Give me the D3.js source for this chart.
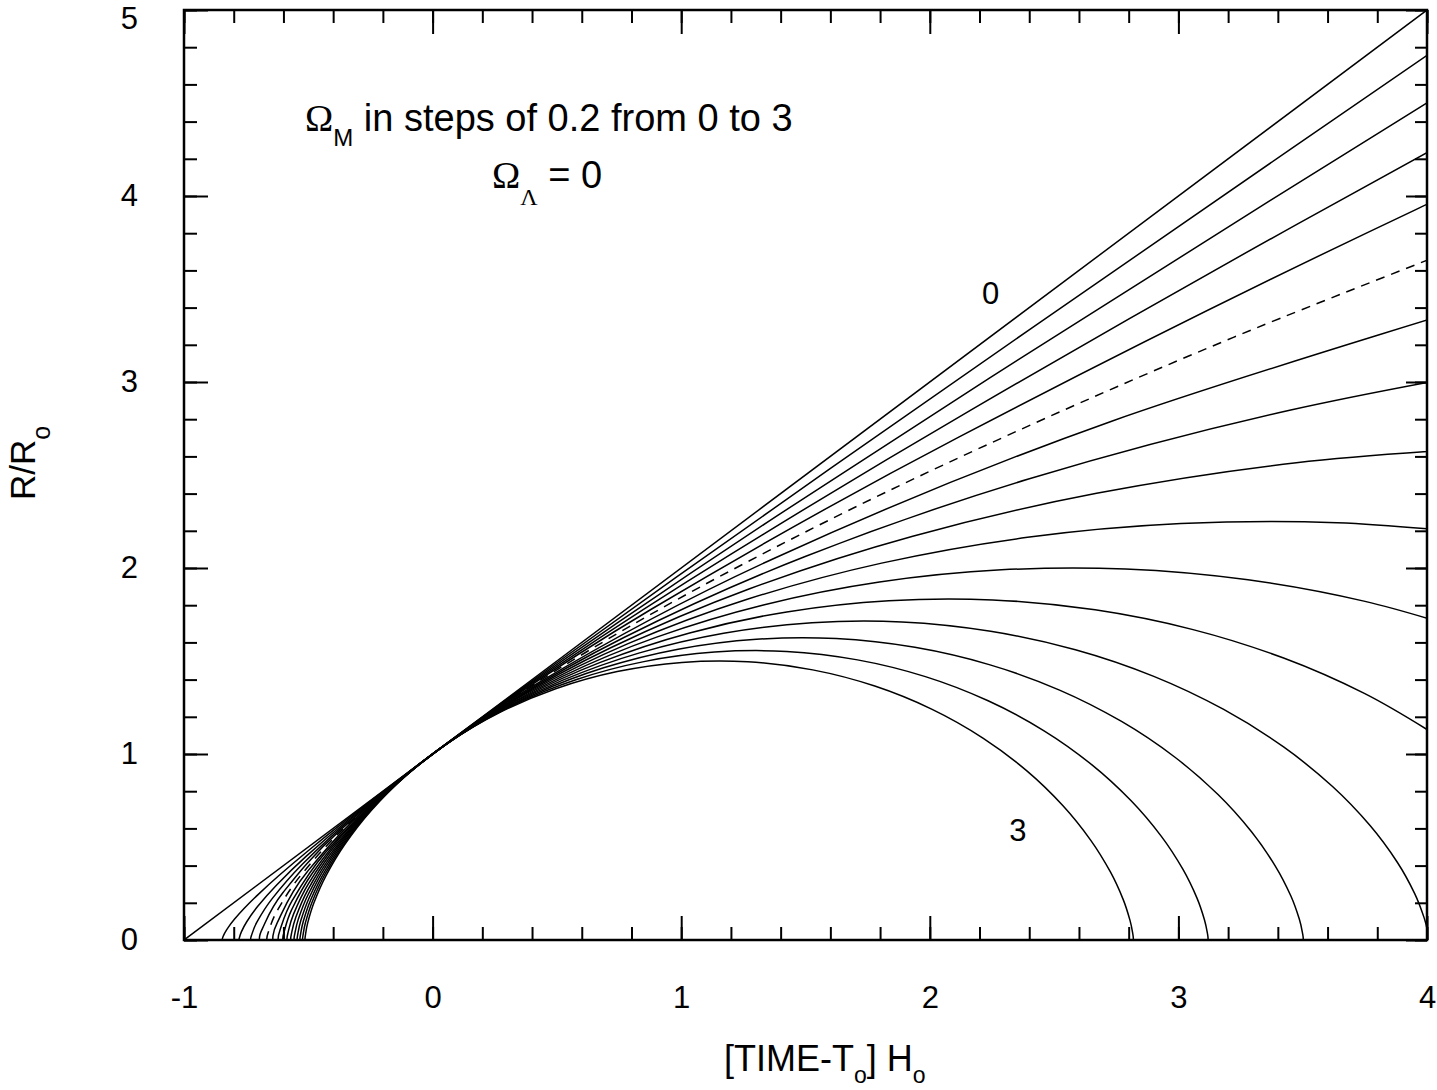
<!DOCTYPE html>
<html>
<head>
<meta charset="utf-8">
<script src="https://cdn.jsdelivr.net/npm/d3@7"></script>
<style>
  body { margin: 0; background: #fff; }
</style>
</head>
<body>
<script>
// R/Ro against (time - To) Ho, Omega_M in steps of 0.2 from 0 to 3, Omega_L = 0
// every curve is a list of [t, R] points

var omegaValues = [0, 0.2, 0.4, 0.6, 0.8, 1.0, 1.2, 1.4, 1.6, 1.8, 2.0, 2.2, 2.4, 2.6, 2.8, 3.0];

var om00 = [[-1, 0], [4, 5]];
var om02 = [[-0.8465,0],[-0.8461,0.0039],[-0.8435,0.0160],[-0.8364,0.0368],[-0.8220,0.0679],[-0.7973,0.1111],[-0.7585,0.1691],[-0.7011,0.2455],[-0.6191,0.3453],[-0.5053,0.4746],[-0.3503,0.6415],[-0.1422,0.8567],[0.1343,1.1335],[0.4988,1.4893],[0.9763,1.9466],[1.5990,2.5340],[2.4084,3.2885],[3.4573,4.2575],[4.8140,5.5018]];
var om04 = [[-0.7787,0],[-0.7776,0.0105],[-0.7696,0.0425],[-0.7476,0.0982],[-0.7033,0.1810],[-0.6273,0.2961],[-0.5079,0.4508],[-0.3310,0.6547],[-0.0786,0.9207],[0.2718,1.2655],[0.7491,1.7108],[1.3899,2.2844],[2.2413,3.0226],[3.3636,3.9715],[4.8339,5.1909]];
var om06 = [[-0.7319,0],[-0.7288,0.0236],[-0.7069,0.0957],[-0.6461,0.2210],[-0.5241,0.4073],[-0.3145,0.6663],[0.0144,1.0143],[0.5019,1.4731],[1.1973,2.0716],[2.1630,2.8474],[3.4782,3.8492],[5.2440,5.1400]];
var om08 = [[-0.6959,0],[-0.6842,0.0628],[-0.6016,0.2553],[-0.3725,0.5894],[0.0876,1.0862],[0.8779,1.7768],[2.1183,2.7048],[3.9570,3.9284],[6.5796,5.5244]];
var om10 = [[-0.6667,0],[-0.6613,0.04],[-0.6240,0.16],[-0.5227,0.36],[-0.3253,0.64],[0,1],[0.4853,1.44],[1.1627,1.96],[2.0640,2.56],[3.2213,3.24],[4.6667,4.0]];
var om12 = [[-0.6421,0],[-0.6247,0.0933],[-0.5041,0.3673],[-0.1835,0.8049],[0.4214,1.3791],[1.3772,2.0540],[2.7288,2.7878],[4.4965,3.5347]];
var om14 = [[-0.6209,0],[-0.6137,0.0544],[-0.5639,0.2142],[-0.4317,0.4695],[-0.1822,0.8045],[0.2121,1.1982],[0.7696,1.6262],[1.4987,2.0619],[2.3971,2.4783],[3.4520,2.8493],[4.6407,3.1520]];
var om16 = [[-0.6022,0],[-0.5978,0.0415],[-0.5668,0.1632],[-0.4846,0.3577],[-0.3294,0.6129],[-0.0841,0.9129],[0.2627,1.2390],[0.7163,1.5710],[1.2752,1.8882],[1.9314,2.1709],[2.6709,2.4015],[3.4744,2.5657],[4.3188,2.6533]];
var om18 = [[-0.5857,0],[-0.5824,0.0350],[-0.5598,0.1377],[-0.4997,0.3019],[-0.3863,0.5172],[-0.2071,0.7703],[0.0464,1.0454],[0.3778,1.3255],[0.7862,1.5932],[1.2657,1.8317],[1.8060,2.0263],[2.3932,2.1648],[3.0102,2.2387],[3.6382,2.2439],[4.2578,2.1785]];
var om20 = [[-0.5708,0],[-0.5682,0.0311],[-0.5502,0.1224],[-0.5024,0.2683],[-0.4123,0.4597],[-0.2698,0.6847],[-0.0683,0.9293],[0.1952,1.1782],[0.5199,1.4161],[0.9011,1.6282],[1.3307,1.8011],[1.7975,1.9243],[2.2881,1.9900],[2.7874,1.9946],[3.2800,1.9365],[3.7508,1.8206],[4.1860,1.6536]];
var om22 = [[-0.5573,0],[-0.5551,0.0285],[-0.5401,0.1122],[-0.5001,0.2460],[-0.4246,0.4214],[-0.3054,0.6276],[-0.1368,0.8518],[0.0837,1.0801],[0.3554,1.2981],[0.6744,1.4925],[1.0339,1.6510],[1.4245,1.7639],[1.8350,1.8242],[2.2528,1.8284],[2.6651,1.7751],[3.0590,1.6688],[3.4232,1.5158],[3.7480,1.3256],[4.0263,1.1099]];
var om24 = [[-0.5449,0],[-0.5430,0.0266],[-0.5300,0.1049],[-0.4954,0.2300],[-0.4301,0.3940],[-0.3269,0.5869],[-0.1809,0.7965],[0.0100,1.0099],[0.2452,1.2138],[0.5214,1.3956],[0.8326,1.5438],[1.1707,1.6494],[1.5261,1.7057],[1.8878,1.7097],[2.2446,1.6598],[2.5857,1.5605],[2.9010,1.4174],[3.1822,1.2395],[3.4231,1.0378],[3.6200,0.8249],[3.7718,0.6140],[3.8805,0.4182],[3.9505,0.2497],[3.9886,0.1189],[4.0040,0.0341],[4.0067,0]];
var om26 = [[-0.5336,0],[-0.5319,0.0253],[-0.5203,0.0995],[-0.4897,0.2180],[-0.4317,0.3735],[-0.3402,0.5563],[-0.2108,0.7550],[-0.0415,0.9573],[0.1670,1.1506],[0.4119,1.3229],[0.6879,1.4634],[0.9877,1.5635],[1.3028,1.6169],[1.6235,1.6206],[1.9399,1.5734],[2.2423,1.4792],[2.5219,1.3436],[2.7713,1.1749],[2.9849,0.9838],[3.1594,0.7819],[3.2941,0.5820],[3.3904,0.3964],[3.4525,0.2367],[3.4863,0.1127],[3.4999,0.0324],[3.5023,0]];
var om28 = [[-0.5230,0],[-0.5215,0.0242],[-0.5111,0.0952],[-0.4834,0.2087],[-0.4311,0.3575],[-0.3485,0.5325],[-0.2317,0.7228],[-0.0790,0.9164],[0.1093,1.1014],[0.3303,1.2664],[0.5793,1.4009],[0.8499,1.4967],[1.1343,1.5478],[1.4238,1.5514],[1.7093,1.5061],[1.9823,1.4160],[2.2346,1.2862],[2.4596,1.1247],[2.6524,0.9417],[2.8099,0.7485],[2.9315,0.5572],[3.0184,0.3795],[3.0744,0.2266],[3.1050,0.1079],[3.1173,0.0310],[3.1195,0]];
var om30 = [[-0.5133,0],[-0.5119,0.0233],[-0.5024,0.0918],[-0.4770,0.2012],[-0.4292,0.3448],[-0.3536,0.5135],[-0.2468,0.6969],[-0.1070,0.8837],[0.0652,1.0621],[0.2673,1.2211],[0.4952,1.3509],[0.7427,1.4432],[1.0029,1.4925],[1.2677,1.4959],[1.5289,1.4523],[1.7786,1.3654],[2.0094,1.2402],[2.2153,1.0846],[2.3916,0.9081],[2.5358,0.7218],[2.6469,0.5373],[2.7265,0.3659],[2.7777,0.2185],[2.8056,0.1041],[2.8169,0.0299],[2.8189,0]];

var curvePoints = [om00, om02, om04, om06, om08, om10, om12, om14, om16, om18, om20, om22, om24, om26, om28, om30];

var xTickLabels = [-1, 0, 1, 2, 3, 4];
var yTickLabels = [0, 1, 2, 3, 4, 5];
var curveLabels = [
  {text: "0", t: 2.21, r: 3.42},
  {text: "3", t: 2.32, r: 0.53}
];

var w = 1437;
var h = 1090;
// note: "top" is taken by window.top, so plot edges get their own names
var plotL = 184, plotR = 1427, plotT = 10, plotB = 940;

var svg = d3.select("body").append("svg")
  .attr("width", w)
  .attr("height", h);

var x = d3.scaleLinear().domain([-1, 4]).range([plotL, plotR]);
var y = d3.scaleLinear().domain([0, 5]).range([plotB, plotT]);

svg.append("clipPath").attr("id", "plot")
  .append("rect")
  .attr("x", plotL).attr("y", plotT)
  .attr("width", plotR - plotL).attr("height", plotB - plotT);

// curves
var line = d3.line()
  .x(function(d){ return x(d[0]); })
  .y(function(d){ return y(d[1]); })
  .curve(d3.curveCatmullRom.alpha(0));

svg.append("g")
  .attr("clip-path", "url(#plot)")
  .selectAll("path")
  .data(curvePoints)
  .enter()
  .append("path")
  .attr("d", line)
  .attr("fill", "none")
  .attr("stroke", "#000")
  .attr("stroke-width", 1.5)
  .attr("stroke-dasharray", function(d, i){ return omegaValues[i] == 1 ? "9,7" : null; });

// ticks, minor every 0.2, major on integers, all pointing inward
var minorX = d3.range(-1, 4.001, 0.2);
var minorY = d3.range(0, 5.001, 0.2);
var fontSans = "Liberation Sans, Arial, Helvetica, sans-serif";
var fontSerif = "Liberation Serif, Times New Roman, serif";
var plain = function(d){ return String(d); };

function styleAxis(g) {
  g.select(".domain").remove();
  g.selectAll("line").attr("stroke", "#000").attr("stroke-width", 2);
  g.attr("font-family", fontSans).attr("font-size", 31);
  g.selectAll("text").attr("fill", "#000");
}

svg.append("g").attr("transform", "translate(0," + plotB + ")")
  .call(d3.axisBottom(x).tickValues(minorX).tickSize(-13).tickSizeOuter(0).tickFormat(""))
  .call(styleAxis);
svg.append("g").attr("transform", "translate(0," + plotB + ")")
  .call(d3.axisBottom(x).tickValues(xTickLabels).tickSize(-24).tickSizeOuter(0).tickPadding(46).tickFormat(plain))
  .call(styleAxis);
svg.append("g").attr("transform", "translate(0," + plotT + ")")
  .call(d3.axisTop(x).tickValues(minorX).tickSize(-13).tickSizeOuter(0).tickFormat(""))
  .call(styleAxis);
svg.append("g").attr("transform", "translate(0," + plotT + ")")
  .call(d3.axisTop(x).tickValues(xTickLabels).tickSize(-24).tickSizeOuter(0).tickFormat(""))
  .call(styleAxis);

svg.append("g").attr("transform", "translate(" + plotL + ",0)")
  .call(d3.axisLeft(y).tickValues(minorY).tickSize(-13).tickSizeOuter(0).tickFormat(""))
  .call(styleAxis);
svg.append("g").attr("transform", "translate(" + plotL + ",0)")
  .call(d3.axisLeft(y).tickValues(yTickLabels).tickSize(-24).tickSizeOuter(0).tickPadding(46).tickFormat(plain))
  .call(styleAxis)
  .call(function(g){
    // top label sits a little lower so it stays on the page
    g.selectAll("text").filter(function(d){ return d == 5; }).attr("dy", "0.6em");
  });
svg.append("g").attr("transform", "translate(" + plotR + ",0)")
  .call(d3.axisRight(y).tickValues(minorY).tickSize(-12).tickSizeOuter(0).tickFormat(""))
  .call(styleAxis);
svg.append("g").attr("transform", "translate(" + plotR + ",0)")
  .call(d3.axisRight(y).tickValues(yTickLabels).tickSize(-21).tickSizeOuter(0).tickFormat(""))
  .call(styleAxis);

// frame
svg.append("rect")
  .attr("x", plotL).attr("y", plotT)
  .attr("width", plotR - plotL).attr("height", plotB - plotT)
  .attr("fill", "none")
  .attr("stroke", "#000")
  .attr("stroke-width", 2.5);

// axis titles
var xt = svg.append("text")
  .attr("x", 724).attr("y", 1071)
  .attr("font-family", fontSans).attr("font-size", 36);
xt.append("tspan").text("[TIME-T");
xt.append("tspan").attr("font-size", 23).attr("dy", 12).text("o");
xt.append("tspan").attr("dy", -12).text("] H");
xt.append("tspan").attr("font-size", 23).attr("dy", 12).text("o");

var yt = svg.append("text")
  .attr("transform", "translate(35,500) rotate(-90)")
  .attr("font-family", fontSans).attr("font-size", 35);
yt.append("tspan").text("R/R");
yt.append("tspan").attr("font-size", 25).attr("dy", 15).text("o");

// annotation
var a1 = svg.append("text")
  .attr("x", 305).attr("y", 131)
  .attr("font-family", fontSans).attr("font-size", 38);
a1.append("tspan").attr("font-family", fontSerif).text("\u03A9");
a1.append("tspan").attr("font-size", 24).attr("dy", 15).text("M");
a1.append("tspan").attr("dy", -15).text(" in steps of 0.2 from 0 to 3");

var a2 = svg.append("text")
  .attr("x", 492).attr("y", 188)
  .attr("font-family", fontSans).attr("font-size", 38);
a2.append("tspan").attr("font-family", fontSerif).text("\u03A9");
a2.append("tspan").attr("font-family", fontSerif).attr("font-size", 24).attr("dy", 17).text("\u039B");
a2.append("tspan").attr("dy", -17).text(" = 0");

// labels on first and last curve
svg.selectAll(".clabel")
  .data(curveLabels)
  .enter()
  .append("text")
  .attr("class", "clabel")
  .attr("x", function(d){ return x(d.t); })
  .attr("y", function(d){ return y(d.r); })
  .attr("font-family", fontSans)
  .attr("font-size", 31)
  .text(function(d){ return d.text; });
</script>
</body>
</html>
